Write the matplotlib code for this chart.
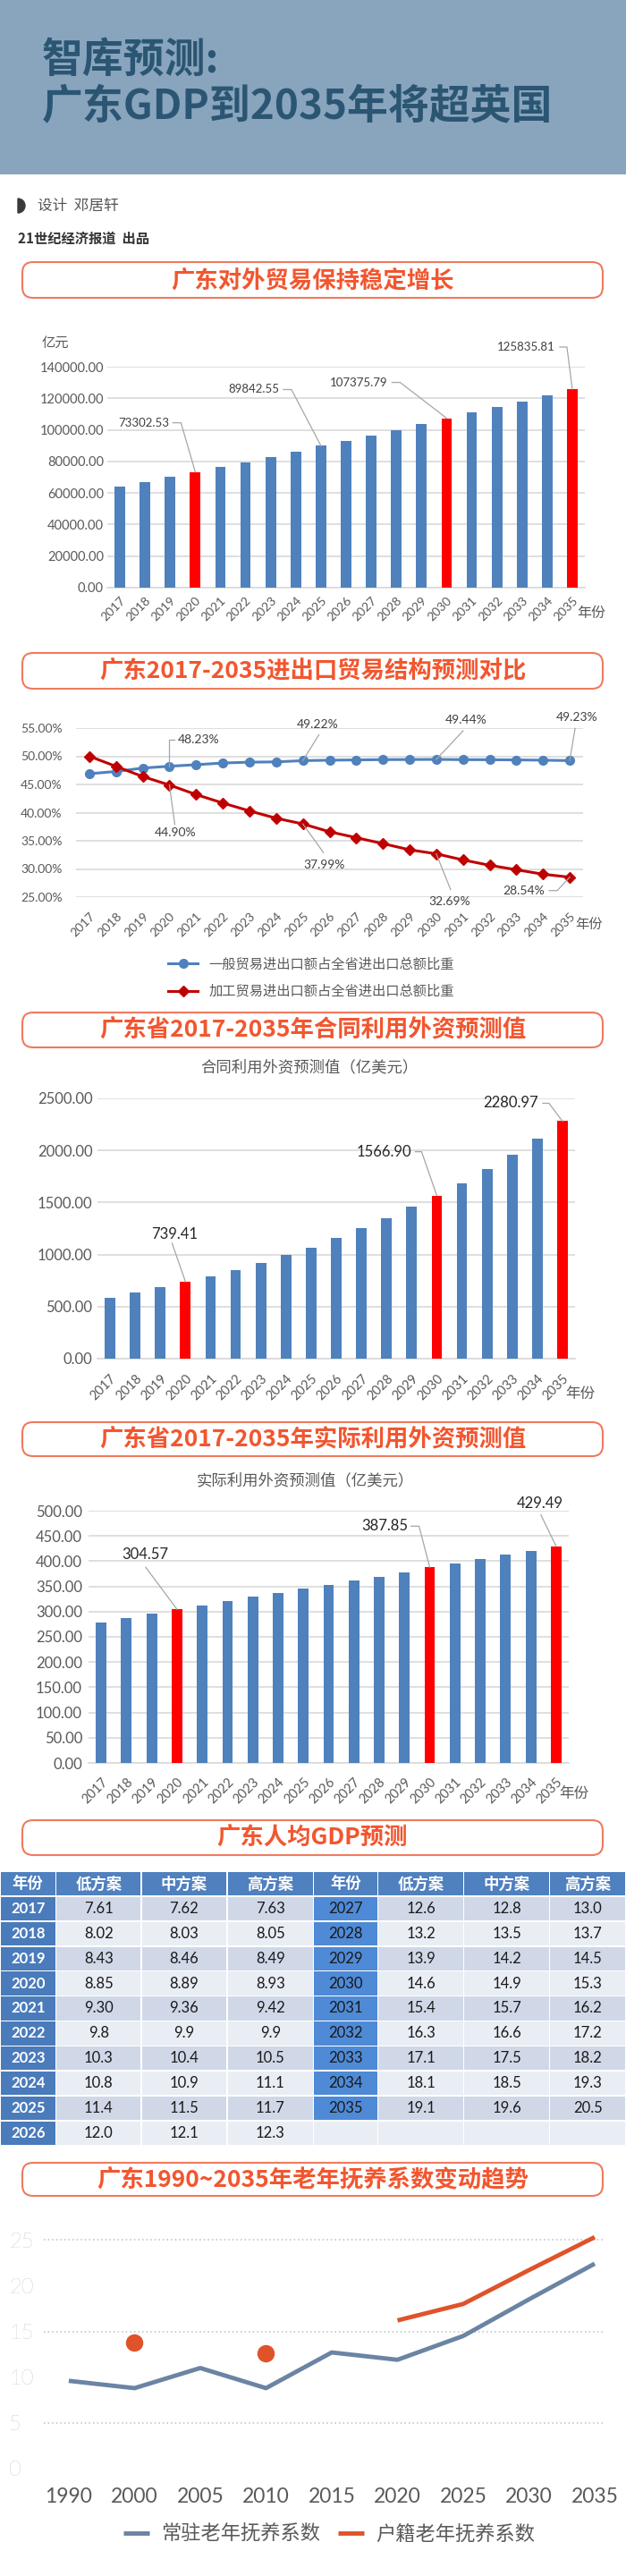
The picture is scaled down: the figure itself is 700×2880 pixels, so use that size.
import numpy as np
import matplotlib
matplotlib.use('Agg')
import matplotlib.pyplot as plt
from matplotlib.patches import FancyBboxPatch, Rectangle, Wedge

plt.rcParams['font.family'] = ['Noto Sans CJK SC', 'DejaVu Sans']

# ---- data ----
years = [str(y) for y in range(2017, 2036)]
highlight = ['2020', '2030', '2035']

trade = [64100, 66800, 70200, 73302.53, 76400, 79600, 82800, 86200, 89842.55, 93200,
         96600, 100000, 103700, 107375.79, 111000, 114600, 118100, 121800, 125835.81]

general_share = [46.9, 47.3, 47.9, 48.23, 48.5, 48.8, 48.95, 49.0, 49.22, 49.3,
                 49.35, 49.4, 49.42, 49.44, 49.4, 49.38, 49.35, 49.3, 49.23]
process_share = [50.0, 48.2, 46.4, 44.90, 43.2, 41.7, 40.3, 39.0, 37.99, 36.6,
                 35.55, 34.5, 33.4, 32.69, 31.6, 30.65, 29.86, 29.07, 28.54]
share_names = ['一般贸易进出口额占全省进出口总额比重', '加工贸易进出口额占全省进出口总额比重']

contract_fdi = [586, 634, 683, 739.41, 791, 854, 920, 997, 1069, 1157,
                1254, 1353, 1458, 1566.90, 1686, 1822, 1958, 2113, 2280.97]
actual_fdi = [278, 287.6, 295.9, 304.57, 311.8, 320.6, 329.4, 337.1, 345.9, 352.9,
              361.2, 369.4, 378.2, 387.85, 394.7, 404.7, 413.5, 420.6, 429.49]

table_header = ['年份', '低方案', '中方案', '高方案', '年份', '低方案', '中方案', '高方案']
years_left = ['2017', '2018', '2019', '2020', '2021', '2022', '2023', '2024', '2025', '2026']
low_left = ['7.61', '8.02', '8.43', '8.85', '9.30', '9.8', '10.3', '10.8', '11.4', '12.0']
mid_left = ['7.62', '8.03', '8.46', '8.89', '9.36', '9.9', '10.4', '10.9', '11.5', '12.1']
high_left = ['7.63', '8.05', '8.49', '8.93', '9.42', '9.9', '10.5', '11.1', '11.7', '12.3']
years_right = ['2027', '2028', '2029', '2030', '2031', '2032', '2033', '2034', '2035']
low_right = ['12.6', '13.2', '13.9', '14.6', '15.4', '16.3', '17.1', '18.1', '19.1']
mid_right = ['12.8', '13.5', '14.2', '14.9', '15.7', '16.6', '17.5', '18.5', '19.6']
high_right = ['13.0', '13.7', '14.5', '15.3', '16.2', '17.2', '18.2', '19.3', '20.5']

dep_years = ['1990', '2000', '2005', '2010', '2015', '2020', '2025', '2030', '2035']
resident_ratio = [9.6, 8.8, 11.0, 8.8, 12.7, 11.9, 14.5, 18.5, 22.4]
hukou_ratio = [np.nan, 13.8, np.nan, 12.6, np.nan, 16.2, 18.0, 21.7, 25.3]
dep_names = ['常驻老年抚养系数', '户籍老年抚养系数']

# ---- style ----
W, H = 700, 2880
NUM = ['Lato', 'Noto Sans CJK SC']
BLUE = '#4f81bd'
RED = '#ff0000'
GRID = '#d9d9d9'
TXT = '#595959'
LEAD = '#a6a6a6'

fig = plt.figure(figsize=(W / 100, H / 100), dpi=100)
bg = fig.add_axes([0, 0, 1, 1], zorder=0)
bg.set_xlim(0, W)
bg.set_ylim(H, 0)
bg.axis('off')
fg = fig.add_axes([0, 0, 1, 1], zorder=10)
fg.set_xlim(0, W)
fg.set_ylim(H, 0)
fg.axis('off')
fg.set_facecolor('none')


def px_rect(x0, y0, x1, y1):
    return [x0 / W, 1 - y1 / H, (x1 - x0) / W, (y1 - y0) / H]


def to_px(ax, x, y):
    dx, dy = ax.transData.transform((x, y))
    return dx, H - dy


def section(y0, y1, title):
    bg.add_patch(FancyBboxPatch((25, y0), 649, y1 - y0,
                                boxstyle='round,pad=0,rounding_size=12',
                                fc='white', ec='#ef7a5e', lw=1.5))
    bg.text(349.5, (y0 + y1) / 2 + 1, title, ha='center', va='center',
            fontsize=19, fontweight='black', color='#f2562f')


def callout(ax, x, y, text, toff, path, size, color):
    px, py = to_px(ax, x, y)
    fg.text(px + toff[0], py + toff[1], text, ha='center', va='center',
            fontsize=size, color=color, family=NUM)
    fg.plot([px + a for a, b in path], [py + b for a, b in path], color=LEAD, lw=0.9)


def bar_axes(rect, values, ymax, ystep, ysize, ypad, xsize, xpad):
    ax = fig.add_axes(px_rect(*rect), zorder=1)
    ax.set_facecolor('none')
    x = np.arange(len(years))
    colors = [RED if y in highlight else BLUE for y in years]
    ax.bar(x, values, width=0.42, color=colors, zorder=3)
    ax.set_xlim(-0.5, len(years) - 0.5)
    ax.set_ylim(0, ymax)
    ticks = np.arange(0, ymax + 1, ystep)
    ax.set_yticks(ticks)
    ax.set_yticklabels([f'{t:.2f}' for t in ticks], family=NUM)
    ax.set_xticks(x)
    ax.set_xticklabels(years, rotation=45, ha='right', rotation_mode='anchor', family=NUM)
    ax.grid(axis='y', color=GRID, lw=1.2, zorder=0)
    for s in ['top', 'right', 'left']:
        ax.spines[s].set_visible(False)
    ax.spines['bottom'].set_color(GRID)
    ax.spines['bottom'].set_linewidth(1.2)
    ax.tick_params(axis='y', length=0, labelsize=ysize, labelcolor=TXT, pad=ypad)
    ax.tick_params(axis='x', length=0, labelsize=xsize, labelcolor=TXT, pad=xpad)
    return ax


# ---- header ----
bg.add_patch(Rectangle((0, 0), W, 195, color='#89a5bd', lw=0))
bg.text(47, 68, '智库预测:', fontsize=33, fontweight='black', color='#2b5673',
        ha='left', va='center')
bg.text(47, 120, '广东GDP到2035年将超英国', fontsize=33, fontweight='black',
        color='#2b5673', ha='left', va='center')
bg.add_patch(Wedge((20, 230), 8, -90, 90, color='#3a3a3a'))
bg.text(42, 230, '设计  邓居轩', fontsize=12, color='#555555', ha='left', va='center')
bg.text(20, 267, '21世纪经济报道  出品', fontsize=11, fontweight='bold',
        color='#333333', ha='left', va='center')

# ---- chart 1: foreign trade ----
section(293, 333, '广东对外贸易保持稳定增长')
ax1 = bar_axes((120, 410, 654, 657), trade, 140000, 20000, 10.5, 3, 10, 6)
bg.text(47, 383, '亿元', fontsize=11, color=TXT, ha='left', va='center')
bg.text(645, 685, '年份', fontsize=11.5, color=TXT, ha='left', va='center')
callout(ax1, 3, trade[3], '73302.53', (-58, -55), [(0, 0), (-16, -55), (-25, -55)], 9.5, '#404040')
callout(ax1, 8, trade[8], '89842.55', (-75, -63), [(0, 0), (-33, -63), (-42, -63)], 9.5, '#404040')
callout(ax1, 13, trade[13], '107375.79', (-98, -40), [(0, 0), (-52, -40), (-61, -40)], 9.5, '#404040')
callout(ax1, 18, trade[18], '125835.81', (-52, -47), [(0, 0), (-6, -47), (-14, -47)], 9.5, '#404040')

# ---- chart 2: trade structure ----
section(730, 770, '广东2017-2035进出口贸易结构预测对比')
ax2 = fig.add_axes(px_rect(85, 814, 652, 1003), zorder=1)
ax2.set_facecolor('none')
x = np.arange(len(years))
ax2.plot(x, general_share, color=BLUE, lw=2.2, marker='o', ms=7, zorder=3, label=share_names[0])
ax2.plot(x, process_share, color='#c00000', lw=2.2, marker='D', ms=6, zorder=3, label=share_names[1])
ax2.set_xlim(-0.5, len(years) - 0.5)
ax2.set_ylim(25, 55)
pt = np.arange(25, 56, 5)
ax2.set_yticks(pt)
ax2.set_yticklabels([f'{v:.2f}%' for v in pt], family=NUM)
ax2.set_xticks(x)
ax2.set_xticklabels(years, rotation=45, ha='right', rotation_mode='anchor', family=NUM)
ax2.grid(axis='y', color=GRID, lw=1.2, zorder=0)
for s in ax2.spines.values():
    s.set_visible(False)
ax2.tick_params(axis='y', length=0, labelsize=10, labelcolor=TXT, pad=11)
ax2.tick_params(axis='x', length=0, labelsize=10, labelcolor=TXT, pad=11)
bg.text(643, 1033, '年份', fontsize=11, color=TXT, ha='left', va='center')
ax2.legend(loc='center', bbox_to_anchor=(348, 1093), bbox_transform=bg.transData,
           frameon=False, fontsize=11, handlelength=2.2, labelspacing=0.9,
           labelcolor=TXT)
callout(ax2, 3, general_share[3], '48.23%', (33, -30), [(0, 0), (0, -30), (6, -30)], 10, '#404040')
callout(ax2, 8, general_share[8], '49.22%', (17, -40), [(0, 0), (18, -29)], 10, '#404040')
callout(ax2, 13, general_share[13], '49.44%', (33, -44), [(0, 0), (30, -32)], 10, '#404040')
callout(ax2, 18, general_share[18], '49.23%', (8, -48), [(0, 0), (6, -36)], 10, '#404040')
callout(ax2, 3, process_share[3], '44.90%', (7, 53), [(0, 0), (6, 44)], 10, '#404040')
callout(ax2, 8, process_share[8], '37.99%', (24, 46), [(0, 0), (23, 32)], 10, '#404040')
callout(ax2, 13, process_share[13], '32.69%', (15, 53), [(0, 0), (16, 40)], 10, '#404040')
callout(ax2, 18, process_share[18], '28.54%', (-51, 15), [(0, 0), (-14, 15), (-23, 15)], 10, '#404040')

# ---- chart 3: contracted FDI ----
section(1132, 1171, '广东省2017-2035年合同利用外资预测值')
bg.text(346, 1193, '合同利用外资预测值（亿美元）', fontsize=12.5, color=TXT, ha='center', va='center')
ax3 = bar_axes((109, 1228, 643, 1519), contract_fdi, 2500, 500, 12, 4, 10.5, 11)
bg.text(632, 1558, '年份', fontsize=12, color=TXT, ha='left', va='center')
callout(ax3, 3, contract_fdi[3], '739.41', (-12, -53), [(0, 0), (-15, -43)], 12, '#262626')
callout(ax3, 13, contract_fdi[13], '1566.90', (-59, -49), [(0, 0), (-17, -49), (-24, -49)], 12, '#262626')
callout(ax3, 18, contract_fdi[18], '2280.97', (-58, -20), [(0, 0), (-15, -20), (-22, -20)], 12, '#262626')

# ---- chart 4: actual FDI ----
section(1590, 1628, '广东省2017-2035年实际利用外资预测值')
bg.text(341, 1655, '实际利用外资预测值（亿美元）', fontsize=12.5, color=TXT, ha='center', va='center')
ax4 = bar_axes((99, 1689, 636, 1971), actual_fdi, 500, 50, 12, 5, 10.5, 10)
bg.text(625, 2005, '年份', fontsize=12, color=TXT, ha='left', va='center')
callout(ax4, 3, actual_fdi[3], '304.57', (-36, -61), [(0, 0), (-35, -47)], 12, '#262626')
callout(ax4, 13, actual_fdi[13], '387.85', (-50, -46), [(0, 0), (-12, -46), (-21, -46)], 12, '#262626')
callout(ax4, 18, actual_fdi[18], '429.49', (-18, -48), [(0, 0), (-17, -35)], 12, '#262626')

# ---- table: GDP per capita ----
section(2035, 2074, '广东人均GDP预测')
col_edges = [0, 62.5, 158, 254, 350.5, 422.5, 518.5, 614.5, 700]
row_top, row_h = 2092, 27.9
left_cols = [years_left, low_left, mid_left, high_left]
right_cols = [years_right, low_right, mid_right, high_right]
n_rows = len(years_left) + 1
for r in range(n_rows):
    y0 = row_top + r * row_h
    for c in range(8):
        x0, x1 = col_edges[c], col_edges[c + 1]
        src = left_cols if c < 4 else right_cols
        col = src[c % 4]
        if r == 0:
            fc, txt, tc, fw = '#4f80bf', table_header[c], 'white', 'bold'
        else:
            i = r - 1
            txt = col[i] if i < len(col) else ''
            odd = (i % 2 == 0)
            if c == 0:
                fc, tc, fw = '#4a7bbb', 'white', 'bold'
            elif c == 4 and txt:
                fc, tc, fw = '#4f8ad6', '#1a1a1a', 'normal'
            else:
                fc = '#d0d8e8' if odd else '#e9edf4'
                tc, fw = '#1a1a1a', 'normal'
        bg.add_patch(Rectangle((x0 + 0.8, y0 + 0.8), x1 - x0 - 1.6, row_h - 1.6, fc=fc, lw=0))
        if txt:
            bg.text((x0 + x1) / 2, y0 + row_h / 2, txt, ha='center', va='center',
                    fontsize=12.5 if r == 0 else 12, color=tc, fontweight=fw, family=NUM)

# ---- chart 6: old-age dependency ----
section(2418, 2455, '广东1990~2035年老年抚养系数变动趋势')
ax6 = fig.add_axes(px_rect(49, 2494, 676, 2760), zorder=1)
ax6.set_facecolor('none')
xd = np.arange(len(dep_years))
hk = np.array(hukou_ratio)
for v in [5, 15, 25]:
    ax6.axhline(v, color='#bfbfbf', lw=1.1, ls=(0, (1, 2)), zorder=0)
ax6.plot(xd, resident_ratio, color='#6b84a3', lw=3.5, solid_capstyle='butt', zorder=3, label=dep_names[0])
ax6.plot(xd, hk, color='#e0532a', lw=3.5, solid_capstyle='butt', zorder=3, label=dep_names[1])
lone = [i for i in range(len(hk)) if not np.isnan(hk[i])
        and (i == 0 or np.isnan(hk[i - 1])) and (i == len(hk) - 1 or np.isnan(hk[i + 1]))]
ax6.plot(xd[lone], hk[lone], 'o', color='#e0532a', ms=13, zorder=4)
ax6.set_xlim(-0.38, 8.15)
ax6.set_ylim(0, 26)
ax6.set_yticks(np.arange(0, 26, 5))
ax6.set_yticklabels([str(v) for v in range(0, 26, 5)], family=NUM, fontweight='light')
for t in ax6.get_yticklabels():
    t.set_ha('left')
ax6.set_xticks(xd)
ax6.set_xticklabels(dep_years, family=NUM)
for s in ax6.spines.values():
    s.set_visible(False)
ax6.tick_params(axis='y', length=0, labelsize=17, labelcolor='#a6a6a6', pad=28)
ax6.tick_params(axis='x', length=0, labelsize=16.5, labelcolor=TXT, pad=15)
ax6.legend(loc='center', bbox_to_anchor=(368, 2833), bbox_transform=bg.transData, ncol=2,
           frameon=False, fontsize=16, handlelength=1.3, columnspacing=0.9, handletextpad=0.6,
           labelcolor=TXT)

fig.savefig('out.png', dpi=100)
